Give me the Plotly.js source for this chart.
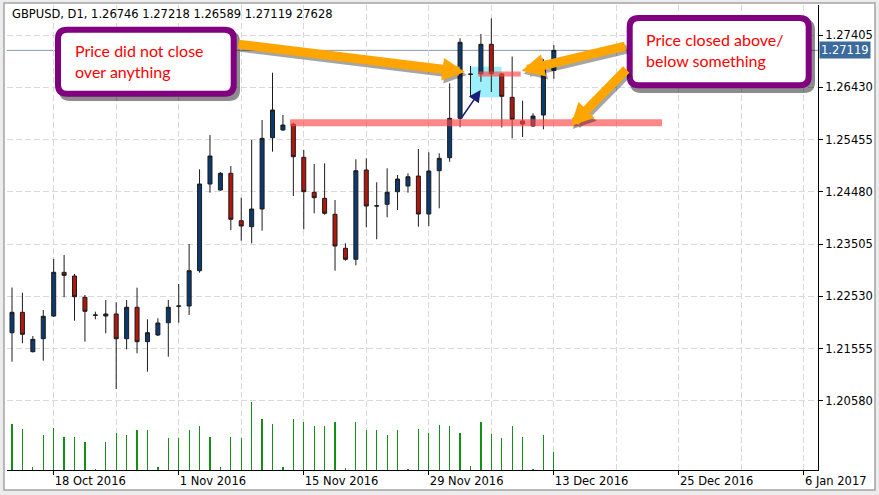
<!DOCTYPE html>
<html><head><meta charset="utf-8">
<script src="https://cdn.plot.ly/plotly-3.0.1.min.js"></script>
<style>html,body{margin:0;padding:0;background:#ececec;}#chart{width:879px;height:495px;}</style>
</head><body><div id="chart"></div>
<script>
// ---------- data ----------
const symbol = 'GBPUSD';
const period = 'D1';
const dates = ['2016-10-13','2016-10-14','2016-10-16','2016-10-17','2016-10-18','2016-10-19','2016-10-20','2016-10-21','2016-10-23','2016-10-24','2016-10-25','2016-10-26','2016-10-27','2016-10-28','2016-10-30','2016-10-31',
 '2016-11-01','2016-11-02','2016-11-03','2016-11-04','2016-11-06','2016-11-07','2016-11-08','2016-11-09','2016-11-10','2016-11-11','2016-11-13','2016-11-14','2016-11-15','2016-11-16','2016-11-17','2016-11-18','2016-11-20','2016-11-21','2016-11-22','2016-11-23','2016-11-24','2016-11-25','2016-11-27','2016-11-28','2016-11-29','2016-11-30',
 '2016-12-01','2016-12-02','2016-12-04','2016-12-05','2016-12-06','2016-12-07','2016-12-08','2016-12-09','2016-12-11','2016-12-12','2016-12-13'];
const open  = [1.21853,1.22233,1.21499,1.21741,1.22164,1.22979,1.22910,1.22513,1.22177,1.22164,1.22202,1.21741,1.22327,1.21685,1.21810,1.22039,
 1.22345,1.22351,1.23009,1.24626,1.24514,1.24826,1.23942,1.23830,1.24160,1.25490,1.25633,1.25740,1.25124,1.24471,1.24359,1.24061,1.23427,1.23222,1.24887,1.24221,1.24248,1.24483,1.24589,1.24775,1.24067,1.24874,
 1.25117,1.25851,1.26678,1.26678,1.27232,1.26678,1.26243,1.25801,1.25708,1.25913,1.26746];
const high  = [1.22696,1.22599,1.21791,1.22276,1.23227,1.23302,1.22948,1.22556,1.22245,1.22463,1.22420,1.22463,1.22692,1.22103,1.22121,1.22463,
 1.22761,1.23507,1.24900,1.25540,1.24850,1.24962,1.24371,1.25447,1.25820,1.26702,1.25913,1.25773,1.25260,1.24999,1.25012,1.24328,1.23520,1.25087,1.25105,1.24658,1.24919,1.24794,1.24826,1.25279,1.25217,1.25199,
 1.26504,1.27343,1.26827,1.27424,1.27716,1.26696,1.27004,1.26180,1.25945,1.26952,1.27218];
const low   = [1.21312,1.21655,1.21484,1.21331,1.22145,1.22513,1.22077,1.21685,1.22103,1.21842,1.20803,1.21543,1.21469,1.21126,1.21791,1.21405,
 1.22039,1.22183,1.22972,1.24464,1.24501,1.23768,1.23569,1.23520,1.23755,1.25229,1.25620,1.24402,1.23781,1.24080,1.24054,1.23009,1.23196,1.23110,1.23819,1.23595,1.24005,1.24141,1.24464,1.23830,1.23843,1.24173,
 1.25042,1.25684,1.26249,1.26534,1.26342,1.25680,1.25478,1.25503,1.25695,1.25646,1.26589];
const close = [1.22233,1.21823,1.21730,1.22159,1.22979,1.22923,1.22524,1.22252,1.22183,1.22202,1.21741,1.22327,1.21685,1.21853,1.22034,1.22327,
 1.22351,1.23009,1.24626,1.25148,1.24826,1.23968,1.23843,1.24160,1.25478,1.26006,1.25726,1.25135,1.24483,1.24371,1.24080,1.23470,1.23222,1.24874,1.24216,1.24216,1.24471,1.24719,1.24762,1.24067,1.24869,1.25105,
 1.25851,1.27269,1.26672,1.27232,1.26683,1.26262,1.25833,1.25745,1.25894,1.26907,1.27119];
const volume = [70650,62980,4100,53250,64510,50690,50690,43010,1020,43010,56830,53250,60930,60930,4610,49150,
 49150,60930,67070,50690,4610,50690,49150,104960,78340,70650,4610,78340,73220,67070,67070,73220,3070,73220,60930,60930,53250,60930,1020,62980,56830,69120,
 67070,56830,6660,73220,55300,49150,67070,50690,1020,53250,27628];

const yTickValues = [1.20580,1.21555,1.22530,1.23505,1.24480,1.25455,1.26430,1.27405];
const xTickBars   = [4,16,28,40,52,64,76];
const xTickLabels = ['18 Oct 2016','1 Nov 2016','15 Nov 2016','29 Nov 2016','13 Dec 2016','25 Dec 2016','6 Jan 2017'];
const xGridBars   = [-2,10,22,34,46,58,70];

const noteLeft  = ['Price did not close', 'over anything'];
const noteRight = ['Price closed above/', 'below something'];

// ---------- layout constants ----------
const W = 879, H = 495;
const M = {l: 7, r: 61, t: 5, b: 25};
const PW = W - M.l - M.r, PH = H - M.t - M.b;
const px2x = px => (px - M.l) / PW;
const py2y = py => (H - M.b - py) / PH;

const bars = dates.map((d, i) => i);
const last = close.length - 1;

function rrect(x0, y0, x1, y1, r) {
  const X = px2x, Y = py2y;
  return 'M' + X(x0 + r) + ',' + Y(y0) + ' L' + X(x1 - r) + ',' + Y(y0) +
    ' Q' + X(x1) + ',' + Y(y0) + ' ' + X(x1) + ',' + Y(y0 + r) +
    ' L' + X(x1) + ',' + Y(y1 - r) +
    ' Q' + X(x1) + ',' + Y(y1) + ' ' + X(x1 - r) + ',' + Y(y1) +
    ' L' + X(x0 + r) + ',' + Y(y1) +
    ' Q' + X(x0) + ',' + Y(y1) + ' ' + X(x0) + ',' + Y(y1 - r) +
    ' L' + X(x0) + ',' + Y(y0 + r) +
    ' Q' + X(x0) + ',' + Y(y0) + ' ' + X(x0 + r) + ',' + Y(y0) + ' Z';
}

const gridColor = '#d9d9d9';
const gridDash = '6px,3px';
const axisFont = {family: 'DejaVu Sans', size: 11.5, color: '#000'};

const traces = [
  {
    type: 'bar', x: bars, y: volume, yaxis: 'y2', width: 0.12,
    marker: {color: '#119011', line: {width: 0}}, hoverinfo: 'skip', showlegend: false
  },
  {
    type: 'candlestick', x: bars, open: open, high: high, low: low, close: close,
    text: dates, whiskerwidth: 0,
    increasing: {line: {color: '#1c1c1c', width: 1}, fillcolor: '#0b3a70'},
    decreasing: {line: {color: '#1c1c1c', width: 1}, fillcolor: '#b3160c'},
    showlegend: false
  }
];

const purple = '#800080';
const orange = '#ffa500';
const pink = 'rgba(255,70,70,0.65)';

const shapes = [
  // chart frame
  {type: 'rect', xref: 'paper', yref: 'paper', layer: 'below',
   x0: px2x(4), x1: px2x(875), y0: py2y(490), y1: py2y(3),
   fillcolor: '#ffffff', line: {color: '#a4a4a4', width: 1.5}},
  // highlight zone
  {type: 'rect', xref: 'x', yref: 'y', layer: 'between',
   x0: 44.05, x1: 46.99, y0: 1.26243, y1: 1.26814,
   fillcolor: '#9defF9', line: {width: 0}},
  // current price line
  {type: 'line', xref: 'paper', yref: 'y', layer: 'between',
   x0: 0, x1: 1, y0: close[last], y1: close[last],
   line: {color: '#8797ae', width: 1}},
  // levels
  {type: 'line', xref: 'x', yref: 'y', layer: 'above',
   x0: 26.68, x1: 62.38, y0: 1.25769, y1: 1.25769, line: {color: pink, width: 7}},
  {type: 'line', xref: 'x', yref: 'y', layer: 'above',
   x0: 44.75, x1: 48.82, y0: 1.26678, y1: 1.26678, line: {color: pink, width: 5}},
  // callout shadows
  {type: 'path', xref: 'paper', yref: 'paper', layer: 'above',
   path: rrect(59, 31, 240, 101, 11), fillcolor: 'rgba(0,0,0,0.45)', line: {width: 0}},
  {type: 'path', xref: 'paper', yref: 'paper', layer: 'above',
   path: rrect(630, 19, 815, 93, 11), fillcolor: 'rgba(0,0,0,0.45)', line: {width: 0}},
  // callout boxes
  {type: 'path', xref: 'paper', yref: 'paper', layer: 'above',
   path: rrect(58, 29.7, 233.7, 93.7, 9), fillcolor: '#ffffff', line: {color: purple, width: 6}},
  {type: 'path', xref: 'paper', yref: 'paper', layer: 'above',
   path: rrect(629.7, 18, 808.7, 85.3, 9), fillcolor: '#ffffff', line: {color: purple, width: 6}}
];

function orangeArrow(x, y, ax, ay) {
  const base = {xref: 'x', yref: 'y', x: x, y: y, ax: ax, ay: ay, text: '', showarrow: true,
    arrowhead: 2, arrowsize: 0.5, arrowwidth: 9};
  return [
    Object.assign({}, base, {arrowcolor: 'rgba(0,0,0,0.35)', xshift: 2, yshift: -3}),
    Object.assign({}, base, {arrowcolor: orange})
  ];
}

const annotations = [
  // title line
  {xref: 'paper', yref: 'paper', x: px2x(10), y: py2y(14), xanchor: 'left', yanchor: 'middle',
   showarrow: false, font: {family: 'DejaVu Sans', size: 11.5, color: '#000'},
   text: symbol + ', ' + period + ', ' + open[last].toFixed(5) + ' ' + high[last].toFixed(5) + ' ' +
         low[last].toFixed(5) + ' ' + close[last].toFixed(5) + ' ' + volume[last]},
  // current price label
  {xref: 'paper', yref: 'y', x: 1, y: close[last], xanchor: 'left', yanchor: 'middle', xshift: 1,
   showarrow: false, bgcolor: '#3b6a9c', borderpad: 1,
   font: {family: 'DejaVu Sans', size: 11.5, color: '#ffffff'}, text: close[last].toFixed(5)},
  ...orangeArrow(43.47, 1.26715, -228, -28),
  ...orangeArrow(48.91, 1.26739, 105, -25),
  ...orangeArrow(53.62, 1.25708, 57, -58),
  // small navy arrow
  {xref: 'x', yref: 'y', x: 44.98, y: 1.26379, ax: -20, ay: 29, text: '', showarrow: true,
   arrowhead: 2, arrowsize: 1.6, arrowwidth: 1.5, arrowcolor: '#1b1b7e'},
  // callout texts
  {xref: 'paper', yref: 'paper', x: px2x(73), y: py2y(61), xanchor: 'left', yanchor: 'middle', align: 'left',
   showarrow: false, font: {family: 'Lato', size: 16, color: '#ff0000'}, text: noteLeft.join('<br>')},
  {xref: 'paper', yref: 'paper', x: px2x(644), y: py2y(50), xanchor: 'left', yanchor: 'middle', align: 'left',
   showarrow: false, font: {family: 'Lato', size: 16, color: '#ff0000'}, text: noteRight.join('<br>')}
];

const layout = {
  width: W, height: H,
  margin: M,
  paper_bgcolor: '#ececec',
  plot_bgcolor: '#ffffff',
  showlegend: false,
  boxgap: 0.45,
  bargap: 0,
  xaxis: {
    range: [-0.48, 77.35], tickmode: 'array', tickvals: xTickBars, ticktext: xTickLabels,
    ticks: 'outside', ticklen: 4, tickcolor: '#000', showline: true, linecolor: '#000', linewidth: 1,
    showgrid: true, gridcolor: gridColor, griddash: gridDash, zeroline: false,
    ticklabelposition: 'outside right', tickfont: axisFont,
    minor: {tickmode: 'array', tickvals: xGridBars, showgrid: true, gridcolor: gridColor, griddash: gridDash, ticks: ''},
    rangeslider: {visible: false}, fixedrange: true
  },
  yaxis: {
    side: 'right', range: [1.19292, 1.27965], tickmode: 'array', tickvals: yTickValues,
    ticktext: yTickValues.map(v => v.toFixed(5)),
    ticks: 'outside', ticklen: 4, tickcolor: '#000', showline: true, linecolor: '#000', linewidth: 1,
    showgrid: true, gridcolor: gridColor, griddash: gridDash, zeroline: false,
    tickfont: axisFont, fixedrange: true
  },
  yaxis2: {overlaying: 'y', range: [0, 714000], visible: false, fixedrange: true},
  shapes: shapes,
  annotations: annotations
};

Plotly.newPlot('chart', traces, layout, {displayModeBar: false, staticPlot: true});
</script>
</body></html>
